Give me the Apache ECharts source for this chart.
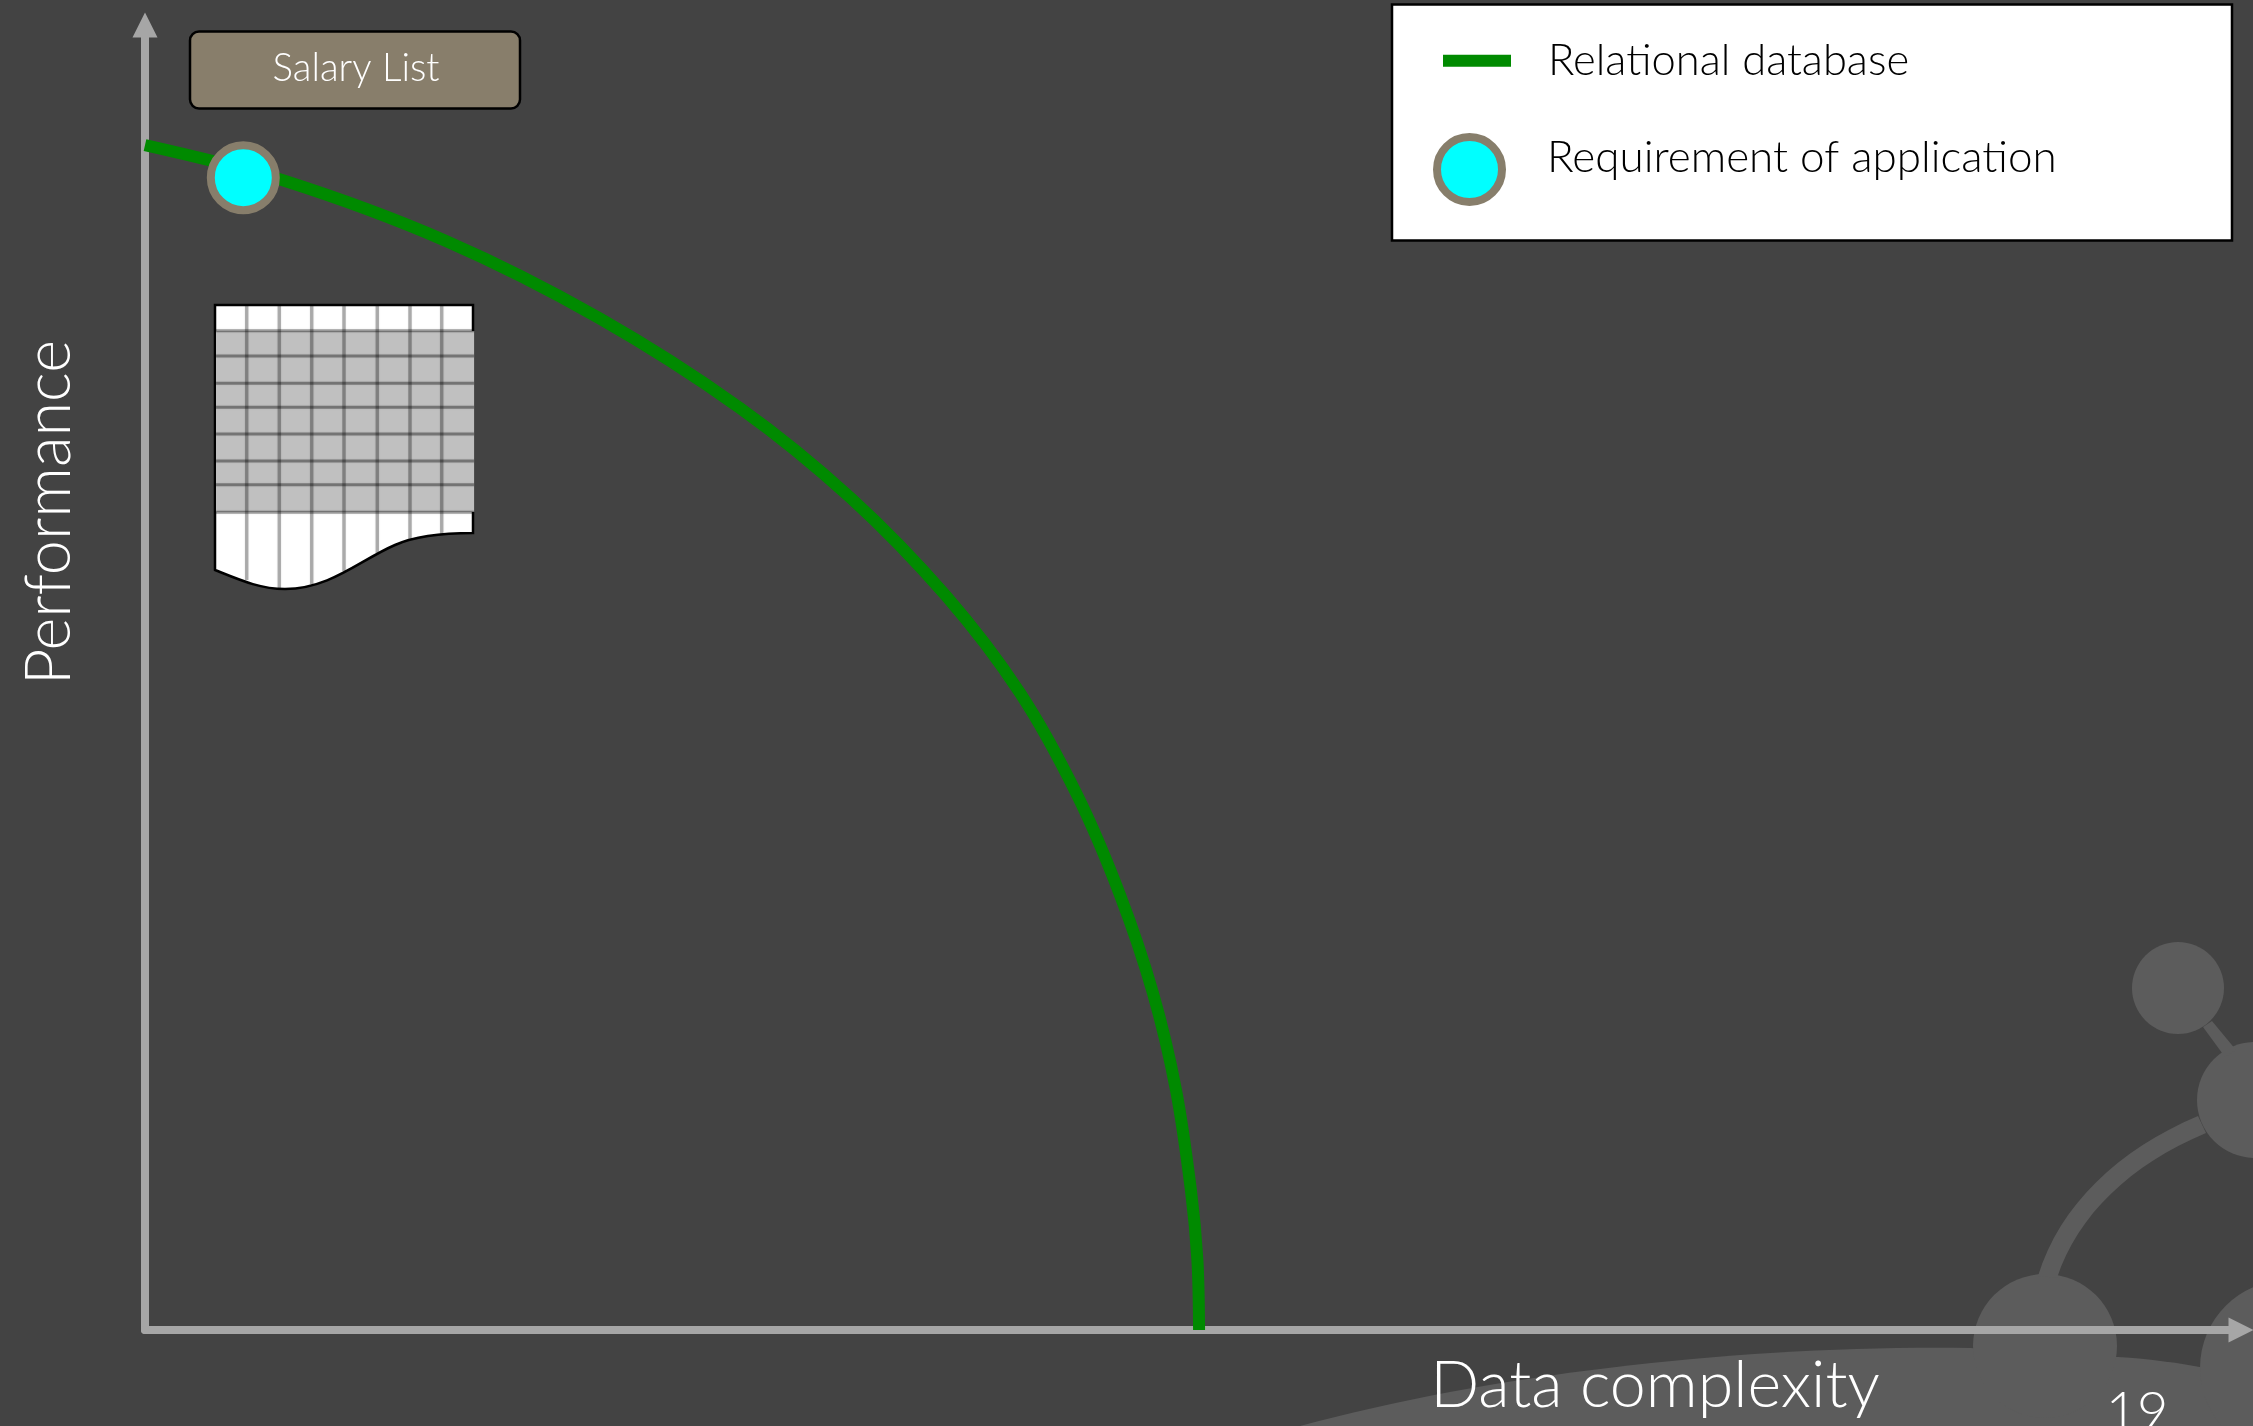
<!DOCTYPE html>
<html>
<head>
<meta charset="utf-8">
<title>Performance and data complexity</title>
<style>
  html, body { margin: 0; padding: 0; background: #434343; }
  #chart { width: 2253px; height: 1426px; }
</style>
<script src="https://cdn.jsdelivr.net/npm/echarts@6/dist/echarts.min.js"></script>
</head>
<body>
<div id="chart"></div>
<script>
// Frontier of a relational database: data complexity against performance.
const complexity = [0, 6.54, 14.36, 21.66, 28.39, 33.68, 38.22, 41.75, 44.47, 46.52, 48.09, 49.19, 49.9, 50.21, 50.29];
const performance = [90.8, 88.12, 83.45, 77.55, 70.65, 63.75, 56.25, 48.81, 41, 33.33, 25.82, 18.39, 10.73, 5.36, 0];
const requirementPoint = [4.69, 88.3];

const lineName = 'Relational database';
const pointName = 'Requirement of application';
const xName = 'Data complexity';
const yName = 'Performance';
const boxLabel = 'Salary List';
const pageNumber = '19';

const FONT = 'Lato';
const GREEN = '#008a00';
const TAN = '#877e6b';
const AXIS_GREY = '#a6a6a6';
const DECOR = '#5c5c5c';

const text = (x, y, str, size, fill) => ({
  type: 'text', z: 6,
  style: { x, y, text: str, fill, fontFamily: FONT, fontWeight: 300, fontSize: size,
           align: 'center', verticalAlign: 'middle' }
});

// The graphic component has no free-form path type, so outlines are registered as shapes.
const outlineShape = (name, pathData) => {
  echarts.graphic.registerShape(name, echarts.graphic.extendPath(pathData));
  return name;
};

// Faded network motif in the slide's lower right corner.
const decor = [
  { type: outlineShape('motifHump', 'M1300 1426 C1500 1372 1750 1345 1970 1348 L2118 1357 C2150 1359 2180 1363 2205 1368 L2253 1380 L2253 1426 Z') },
  { type: 'circle', shape: { cx: 2178, cy: 988, r: 46 } },
  { type: 'circle', shape: { cx: 2255, cy: 1100, r: 58 } },
  { type: 'circle', shape: { cx: 2045, cy: 1346, r: 72 } },
  { type: 'circle', shape: { cx: 2288, cy: 1368, r: 88 } },
  { type: 'polygon', shape: { points: [[2212, 1021], [2236, 1050], [2225, 1057], [2203, 1027]] } },
  { type: outlineShape('motifArc', 'M2198 1116 C2118 1150 2060 1205 2038 1276 L2057 1278 C2078 1215 2130 1165 2206 1133 Z') }
].map(el => Object.assign(el, { z: 0, silent: true, style: { fill: DECOR } }));

// Spreadsheet glyph: a torn sheet with a shaded block of rows.
const columnLines = [[246.7, 580], [279.3, 589], [311.7, 584], [344, 571], [377.3, 553], [410, 540], [441.7, 535]];
const rowLines = [330.7, 356, 383.3, 407.3, 434, 461, 484.7, 512.3];
const softLine = { stroke: '#000000', shadowBlur: 2, shadowColor: 'rgba(0,0,0,0.3)' };
const sheet = [
  { type: outlineShape('sheetOutline', 'M215 305 L473 305 L473 533 C440 533 415 536 395 545 C360 560 330 589 285 589 C260 589 240 580 215 570 Z'),
    z: 1, style: { fill: '#ffffff', stroke: '#000000', lineWidth: 2.5 } },
  { type: 'rect', z: 1, shape: { x: 216.2, y: 331, width: 258, height: 181 }, style: { fill: '#c0c0c0' } }
];
rowLines.forEach(y => sheet.push({
  type: 'line', z: 1, shape: { x1: 216, y1: y, x2: 474, y2: y },
  style: Object.assign({ opacity: 0.34, lineWidth: 3 }, softLine)
}));
columnLines.forEach(([x, end]) => sheet.push({
  type: 'line', z: 1, shape: { x1: x, y1: 306, x2: x, y2: end },
  style: Object.assign({ opacity: 0.28, lineWidth: 3.5 }, softLine)
}));

const chart = echarts.init(document.getElementById('chart'), null, { renderer: 'canvas' });
chart.setOption({
  animation: false,
  backgroundColor: '#434343',
  grid: { left: 145, right: 12, top: 25, bottom: 96, outerBoundsMode: 'none' },
  xAxis: {
    type: 'value', min: 0, max: 100, z: 3,
    name: xName, nameLocation: 'middle', nameGap: 24,
    nameTextStyle: { color: '#ffffff', fontFamily: FONT, fontWeight: 300, fontSize: 64.5, padding: [0, 0, 0, 924] },
    axisLine: { show: true, symbol: ['none', 'triangle'], symbolSize: [25, 25],
                lineStyle: { color: AXIS_GREY, width: 8 } },
    axisTick: { show: false }, axisLabel: { show: false }, splitLine: { show: false }
  },
  yAxis: {
    type: 'value', min: 0, max: 100, z: 3,
    name: yName, nameLocation: 'middle', nameGap: 64,
    nameTextStyle: { color: '#ffffff', fontFamily: FONT, fontWeight: 300, fontSize: 63, padding: [0, 0, 0, 330] },
    axisLine: { show: true, symbol: ['none', 'triangle'], symbolSize: [25, 25],
                lineStyle: { color: AXIS_GREY, width: 8 } },
    axisTick: { show: false }, axisLabel: { show: false }, splitLine: { show: false }
  },
  legend: [
    {
      data: [{ name: lineName, icon: 'rect' }], z: 8, left: 1443, top: 38.7,
      itemWidth: 68, itemHeight: 12, selectedMode: false, padding: 0,
      textStyle: { color: '#000000', fontFamily: FONT, fontWeight: 300, fontSize: 43.5, padding: [0, 0, 0, 32] }
    },
    {
      data: [{ name: pointName, icon: 'circle' }], z: 8, left: 1433, top: 133,
      itemWidth: 65, itemHeight: 65, selectedMode: false, padding: 0,
      itemStyle: { color: '#00ffff', borderColor: TAN, borderWidth: 8 },
      formatter: '{raised|{name}}',
      textStyle: {
        rich: { raised: { color: '#000000', fontFamily: FONT, fontWeight: 300, fontSize: 44, padding: [0, 0, 23, 40] } }
      }
    }
  ],
  graphic: [
    ...decor,
    ...sheet,
    { type: 'rect', z: 6, shape: { x: 190, y: 31.5, width: 330, height: 77, r: 9 },
      style: { fill: '#887e6b', stroke: '#000000', lineWidth: 2.5 } },
    text(356, 69, boxLabel, 38.5, '#ffffff'),
    { type: 'rect', z: 6, shape: { x: 1392, y: 4.5, width: 840, height: 236 },
      style: { fill: '#ffffff', stroke: '#000000', lineWidth: 2.5 } },
    text(2137, 1412.5, pageNumber, 54, '#ffffff')
  ],
  series: [
    {
      name: lineName, type: 'line', z: 4, clip: false, smooth: 0.33, showSymbol: false, silent: true,
      data: complexity.map((x, i) => [x, performance[i]]),
      lineStyle: { color: GREEN, width: 12, cap: 'butt' },
      itemStyle: { color: GREEN }
    },
    {
      name: pointName, type: 'scatter', z: 5, symbol: 'circle', symbolSize: 65, silent: true,
      data: [requirementPoint],
      itemStyle: { color: '#00ffff', borderColor: TAN, borderWidth: 8, opacity: 1 }
    }
  ]
});
</script>
</body>
</html>
